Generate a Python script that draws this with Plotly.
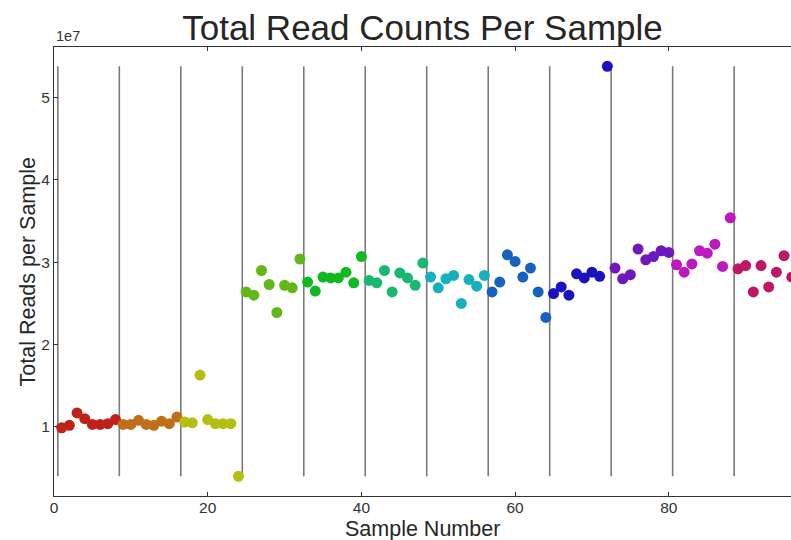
import plotly.graph_objects as go

# ---- data (values in units of 1e7 reads) ----
group_size = 8
group_colors = ["#c0201a", "#c06e18", "#b4bf14", "#62b81a", "#12b822", "#18b872",
                "#18b0bf", "#1862bf", "#1a12bf", "#6e18bf", "#bf18bf", "#bf1862"]
g01 = [0.99, 1.02, 1.17, 1.10, 1.03, 1.03, 1.04, 1.09]
g02 = [1.03, 1.03, 1.08, 1.03, 1.02, 1.07, 1.04, 1.12]
g03 = [1.06, 1.05, 1.63, 1.09, 1.04, 1.04, 1.04, 0.40]
g04 = [2.64, 2.60, 2.90, 2.73, 2.39, 2.72, 2.69, 3.04]
g05 = [2.76, 2.65, 2.82, 2.81, 2.81, 2.88, 2.75, 3.07]
g06 = [2.78, 2.75, 2.90, 2.64, 2.87, 2.81, 2.72, 2.99]
g07 = [2.82, 2.69, 2.80, 2.84, 2.50, 2.79, 2.71, 2.84]
g08 = [2.64, 2.76, 3.09, 3.01, 2.82, 2.93, 2.64, 2.33]
g09 = [2.62, 2.70, 2.60, 2.86, 2.81, 2.88, 2.83, 5.38]
g10 = [2.93, 2.80, 2.85, 3.16, 3.03, 3.07, 3.14, 3.12]
g11 = [2.97, 2.88, 2.98, 3.14, 3.11, 3.22, 2.95, 3.54]
g12 = [2.92, 2.96, 2.64, 2.96, 2.70, 2.88, 3.08, 2.82]
groups = [g01, g02, g03, g04, g05, g06, g07, g08, g09, g10, g11, g12]
scale = 1e7
y_ticks = [1, 2, 3, 4, 5]
x_ticks = [0, 20, 40, 60, 80]

all_vals = [v * scale for g in groups for v in g]
ymin, ymax = min(all_vals), max(all_vals)

fig = go.Figure()

# group separator lines (from min to max of data)
lx, ly = [], []
for k in range(len(groups)):
    xb = k * group_size + 0.5
    lx += [xb, xb, None]
    ly += [ymin, ymax, None]
fig.add_trace(go.Scatter(x=lx, y=ly, mode="lines",
                         line=dict(color="#7a7a7a", width=1.6),
                         hoverinfo="skip", showlegend=False))

for k, g in enumerate(groups):
    xs = [k * group_size + i + 1 for i in range(len(g))]
    ys = [v * scale for v in g]
    fig.add_trace(go.Scatter(x=xs, y=ys, mode="markers",
                             marker=dict(size=11, color=group_colors[k], line=dict(width=0)),
                             showlegend=False))

FONT = "Liberation Sans, Arial, sans-serif"
axis_font = dict(family=FONT, size=15.5, color="#333333")
title_font = dict(family=FONT, size=21.5, color="#262626")
fig.update_layout(
    width=791, height=540,
    margin=dict(l=54, r=0, t=47, b=44),
    paper_bgcolor="white", plot_bgcolor="white",
    title=dict(text="Total Read Counts Per Sample", x=0.5, xref="paper",
               y=0.948, yanchor="middle",
               font=dict(family=FONT, size=35, color="#262626")),
    xaxis=dict(range=[0, 95.9], tickvals=x_ticks, ticks="inside", ticklen=4,
               tickcolor="#333333", showline=True, linecolor="#333333", linewidth=1.3,
               mirror="ticks", showgrid=False, zeroline=False, tickfont=axis_font,
               ticklabelstandoff=-3),
    yaxis=dict(range=[0.161 * scale, 5.615 * scale],
               tickvals=[t * scale for t in y_ticks], ticktext=[str(t) for t in y_ticks],
               ticks="inside", ticklen=4, tickcolor="#333333",
               showline=True, linecolor="#333333", linewidth=1.3, mirror=False,
               showgrid=False, zeroline=False, tickfont=axis_font),
    annotations=[
        dict(text="1e7", xref="paper", yref="paper", x=0, y=1, xanchor="left",
             yanchor="bottom", yshift=1, showarrow=False,
             font=dict(family=FONT, size=14.5, color="#333333")),
        dict(text="Sample Number", xref="paper", yref="paper", x=0.5, y=-0.0725,
             xanchor="center", yanchor="middle", showarrow=False, font=title_font),
        dict(text="Total Reads per Sample", xref="paper", yref="paper", x=-0.0353, y=0.5,
             xanchor="center", yanchor="middle", textangle=-90, showarrow=False,
             font=title_font),
    ],
)

fig.write_html("out.html")
